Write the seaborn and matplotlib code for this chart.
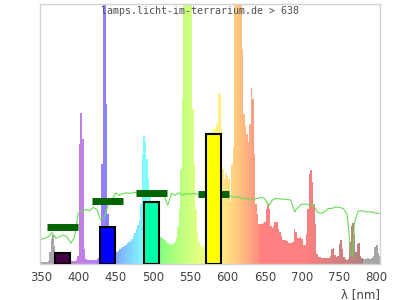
import numpy as np
import matplotlib
matplotlib.use("Agg")
import matplotlib.pyplot as plt
import seaborn as sns

# ---------------- data ----------------
# emission spectrum, 2 nm bins (relative units; values above 261 are clipped)
spec_wl = list(range(350, 806, 2))
spec_val = [
    2, 2, 2, 2, 2, 3, 12, 25, 29, 18,                # 350-368
    4, 3, 3, 3, 3, 3, 3, 3, 3, 3,                    # 370-388
    3, 3, 3, 3, 4, 8, 120, 151, 125, 15,             # 390-408
    5, 4, 4, 4, 4, 4, 4, 4, 5, 6,                    # 410-428
    10, 100, 300, 400, 160, 50, 15, 10, 9, 9,        # 430-448
    10, 12, 13, 15, 16, 17, 18, 19, 21, 22,          # 450-468
    23, 25, 28, 31, 35, 39, 44, 60, 110, 128,        # 470-488
    122, 105, 85, 72, 58, 48, 42, 37, 33, 30,        # 490-508
    27, 26, 25, 24, 22, 21, 20, 20, 19, 20,          # 510-528
    22, 26, 37, 55, 95, 165, 300, 400, 420, 350,     # 530-548
    300, 262, 155, 100, 55, 32, 22, 18, 17, 17,      # 550-568
    20, 30, 45, 80, 130, 135, 135, 136, 140, 171,    # 570-588
    170, 135, 95, 85, 90, 88, 85, 62, 100, 117,      # 590-608
    300, 400, 420, 320, 262, 215, 150, 138, 130, 122,  # 610-628
    140, 176, 165, 110, 60, 50, 40, 40, 40, 41,      # 630-648
    42, 55, 60, 55, 38, 36, 38, 42, 42, 35,          # 650-668
    32, 28, 24, 24, 24, 23, 21, 21, 21, 22,          # 670-688
    35, 32, 26, 26, 27, 25, 19, 19, 30, 55,          # 690-708
    90, 94, 82, 60, 40, 10, 7, 7, 6, 6,              # 710-728
    6, 6, 6, 6, 8, 15, 16, 9, 7, 8,                  # 730-748
    20, 24, 15, 7, 5, 4, 5, 22, 38, 41,              # 750-768
    30, 12, 20, 21, 8, 6, 5, 5, 5, 6,                # 770-788
    5, 5, 6, 8, 17, 19, 11, 8,                       # 790-804
]

# transmission curve (light green line)
green_wl = [350, 355, 360, 365, 370, 375, 380, 385, 390, 395, 400, 405, 410, 415,
            420, 425, 430, 435, 440, 445, 450, 455, 460, 465, 470, 475, 480, 485,
            490, 495, 500, 505, 510, 515, 520, 525, 530, 535, 540, 545, 550, 555,
            560, 565, 570, 575, 580, 585, 590, 595, 600, 605, 610, 615, 620, 625,
            630, 635, 640, 645, 650, 655, 660, 665, 670, 675, 680, 685, 690, 695,
            700, 705, 710, 715, 720, 725, 730, 735, 740, 745, 750, 755, 760, 762,
            765, 768, 770, 775, 780, 785, 790, 795, 800, 804]
green_val = [24.7, 25.7, 27.3, 31.3, 25.7, 27.3, 29, 27, 20.7, 27, 50.7, 53.3, 54.7, 53.3,
             56.7, 54.7, 44, 47.3, 59, 64, 71.3, 69, 70.7, 71.3, 70.7, 72, 71, 72,
             71, 70, 71, 72, 71, 68, 59, 70.7, 69, 71.3, 69, 70.7, 70, 70.7,
             70, 69, 69, 69, 69, 68, 68, 68, 68, 68, 66.7, 67.3, 65.7, 65.7,
             64, 64.7, 65.7, 66.7, 65.7, 58, 64, 65.7, 65.3, 65, 64.7, 64, 52.3, 57.3,
             60, 60, 59, 59.7, 52.3, 50.7, 52.3, 55.7, 55.7, 57.3, 56.7, 55.7, 50.7, 38,
             10.7, 7.3, 40.7, 53, 53.3, 52.3, 52.3, 51.7, 50.7, 51]

# band summary bars and dark-green band markers
band_center = [379, 439, 498, 581]
band_value = [10.7, 37, 62, 130.7]
band_color = ["#440044", "#0000ff", "#00ffaa", "#ffff00"]
marker_value = [36.7, 62.8, 71.5, 69.7]

title = "lamps.licht-im-terrarium.de > 638"
xticks = [350, 400, 450, 500, 550, 600, 650, 700, 750, 800]
xlabel = "λ [nm]"


def wl_rgb(w):
    if w < 380:
        r, g, b = 0.35, 0.30, 0.35
        return (0.5 + 0.5 * r, 0.5 + 0.5 * g, 0.5 + 0.5 * b)
    if w < 440:
        r, g, b = -(w - 440) / 60, 0.0, 1.0
    elif w < 490:
        r, g, b = 0.0, (w - 440) / 50, 1.0
    elif w < 510:
        r, g, b = 0.0, 1.0, -(w - 510) / 20
    elif w < 580:
        r, g, b = (w - 510) / 70, 1.0, 0.0
    elif w < 645:
        r, g, b = 1.0, -(w - 645) / 65, 0.0
    else:
        r, g, b = 1.0, 0.0, 0.0
    if w < 420:
        f = 0.3 + 0.7 * (w - 380) / 40
    elif w <= 700:
        f = 1.0
    elif w <= 780:
        f = 0.3 + 0.7 * (780 - w) / 80
    else:
        return (0.65, 0.65, 0.65)
    r, g, b = [(c * f) ** 0.8 if c > 0 else 0.0 for c in (r, g, b)]
    return (0.5 + 0.5 * r, 0.5 + 0.5 * g, 0.5 + 0.5 * b)


sns.set_style("white")
plt.rcParams["font.family"] = ["DejaVu Sans"]

fig = plt.figure(figsize=(4, 3), dpi=100)
ax = fig.add_axes([0.1, 0.12, 0.85, 0.868])

ax.bar(spec_wl, spec_val, width=2.1, color=[wl_rgb(w) for w in spec_wl],
       linewidth=0, zorder=1)

sns.lineplot(x=green_wl, y=green_val, ax=ax, color="#66dd55", linewidth=0.8,
             zorder=2, legend=False)

ax.hlines(marker_value, [c - 20.5 for c in band_center], [c + 20.5 for c in band_center],
          colors="#006400", linewidth=5, zorder=3, capstyle="butt")

ax.bar(band_center, band_value, width=19.5, color=band_color, edgecolor="black",
       linewidth=1.5, zorder=4)

ax.set_xlim(348.7, 804.4)
ax.set_ylim(0, 261)
ax.set_xticks(xticks)
ax.set_xticklabels([str(t) for t in xticks])
ax.set_yticks([])
ax.tick_params(axis="x", length=0, pad=5, labelsize=8.5, colors="#444444")
for s in ax.spines.values():
    s.set_visible(True)
    s.set_color("#d3d3d3")
    s.set_linewidth(1)
ax.set_xlabel("")
ax.set_ylabel("")

fig.text(0.5, 1 - 11 / 300, title, ha="center", va="center",
         family="DejaVu Sans Mono", fontsize=7.2, color="#505050")
fig.text(0.95, 1 - 294.5 / 300, xlabel, ha="right", va="center",
         fontsize=8.5, color="#444444")

fig.savefig("out.png", dpi=100)
